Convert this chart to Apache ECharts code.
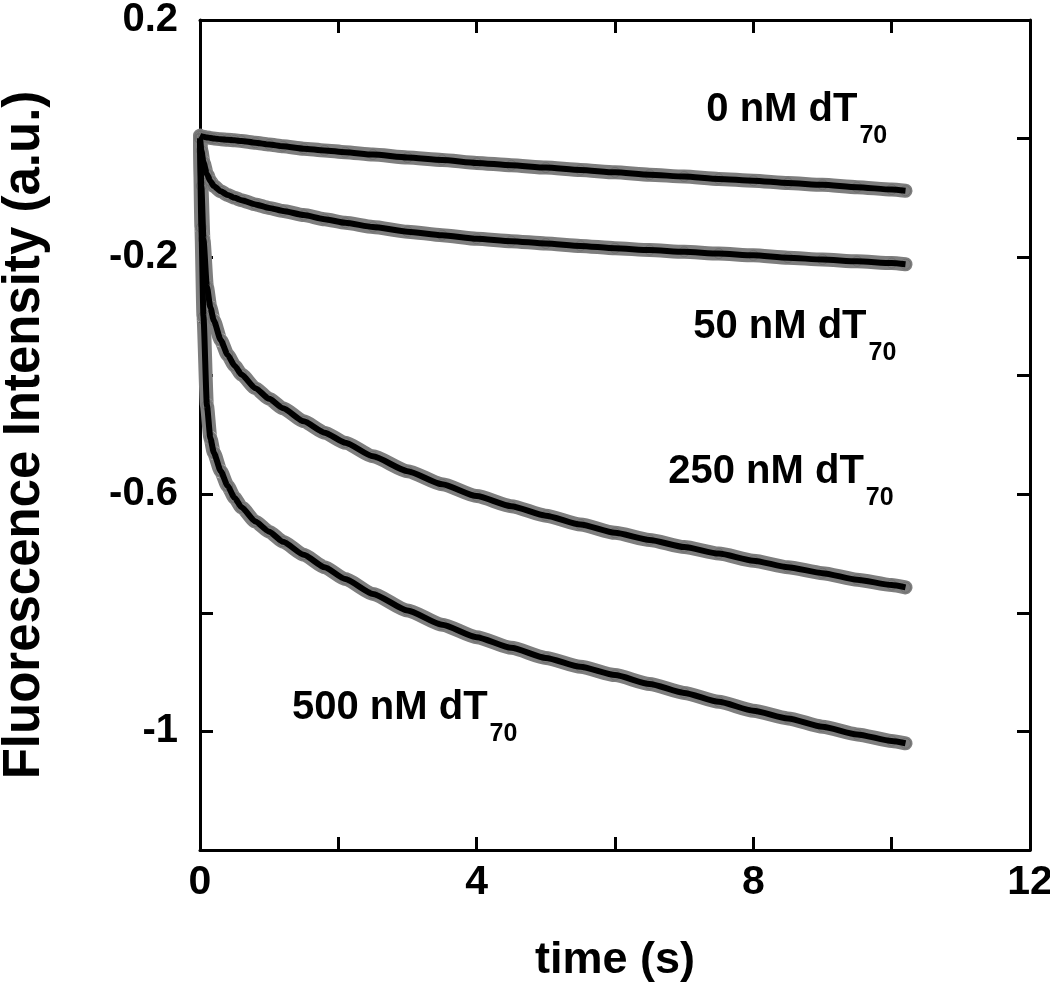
<!DOCTYPE html>
<html>
<head>
<meta charset="utf-8">
<script src="https://cdn.jsdelivr.net/npm/echarts@6/dist/echarts.min.js"></script>
<style>
html,body{margin:0;padding:0;background:#fff;}
#chart{width:1050px;height:995px;}
</style>
</head>
<body>
<div id="chart"></div>
<script>
// ---- data ----
const times = [0, 0.02, 0.05, 0.1, 0.15, 0.2, 0.3, 0.4, 0.5, 0.6, 0.8, 1.0, 1.2, 1.5, 1.8, 2.1, 2.5, 3.0, 3.5, 4.0, 4.5, 5.0, 5.5, 6.0, 6.5, 7.0, 7.5, 8.0, 8.5, 9.0, 9.5, 10.0, 10.2];
const conc0 = [0.005, 0.004, 0.003, 0.002, 0.001, 0.0, -0.001, -0.002, -0.003, -0.004, -0.007, -0.010, -0.013, -0.017, -0.020, -0.023, -0.027, -0.032, -0.036, -0.041, -0.045, -0.049, -0.053, -0.057, -0.061, -0.064, -0.068, -0.071, -0.075, -0.078, -0.082, -0.086, -0.088];
const conc50 = [0.0, -0.02, -0.04, -0.06, -0.072, -0.080, -0.089, -0.095, -0.100, -0.104, -0.111, -0.117, -0.122, -0.129, -0.136, -0.142, -0.149, -0.157, -0.163, -0.169, -0.173, -0.177, -0.181, -0.185, -0.188, -0.191, -0.194, -0.197, -0.201, -0.204, -0.207, -0.210, -0.212];
const conc250 = [0.0, -0.08, -0.17, -0.25, -0.285, -0.307, -0.340, -0.365, -0.383, -0.398, -0.421, -0.439, -0.455, -0.477, -0.496, -0.513, -0.536, -0.561, -0.583, -0.603, -0.620, -0.636, -0.651, -0.665, -0.677, -0.689, -0.700, -0.712, -0.723, -0.733, -0.744, -0.753, -0.757];
const conc500 = [0.0, -0.15, -0.30, -0.45, -0.505, -0.530, -0.561, -0.586, -0.606, -0.622, -0.646, -0.663, -0.680, -0.702, -0.723, -0.743, -0.768, -0.796, -0.820, -0.841, -0.859, -0.876, -0.891, -0.905, -0.920, -0.935, -0.950, -0.965, -0.978, -0.992, -1.005, -1.016, -1.020];
const seriesNames = ['0 nM', '50 nM', '250 nM', '500 nM'];
const xTickLabels = ['0', '4', '8', '12'];
const yTickLabels = ['0.2', '-0.2', '-0.6', '-1'];
const labelMain = ['0 nM dT', '50 nM dT', '250 nM dT', '500 nM dT'];
const labelSub = '70';
// ---------------------------------------

const allSeries = [conc0, conc50, conc250, conc500];
const zip = arr => times.map((t, i) => [t, arr[i]]);

const FONT = '"Liberation Sans", Arial, sans-serif';
const chart = echarts.init(document.getElementById('chart'), null, {renderer: 'canvas'});

function fmtMatch(list) {
  return function (v) {
    for (const s of list) { if (Math.abs(parseFloat(s) - v) < 1e-6) return s; }
    return '';
  };
}

const series = [];
allSeries.forEach((arr, k) => {
  series.push({
    name: seriesNames[k] + ' data', type: 'line', data: zip(arr),
    xAxisIndex: 0, yAxisIndex: 0,
    smooth: 0.2, smoothMonotone: 'x',
    showSymbol: true, symbol: 'circle', symbolSize: 10,
    itemStyle: {color: 'rgba(0,0,0,0)', borderColor: '#6e6e6e', borderWidth: 1},
    lineStyle: {color: '#7e7e7e', width: 14, cap: 'round', join: 'round'},
    z: 2, silent: true, animation: false
  });
});
allSeries.forEach((arr, k) => {
  series.push({
    name: seriesNames[k] + ' fit', type: 'line', data: zip(arr),
    xAxisIndex: 0, yAxisIndex: 0,
    smooth: 0.2, smoothMonotone: 'x',
    showSymbol: false,
    lineStyle: {color: '#000', width: 6, join: 'round'},
    z: 3, silent: true, animation: false
  });
});

const axisLineStyle = {onZero: false, lineStyle: {color: '#000', width: 3}};
const tickStyle = {show: true, inside: true, length: 13, lineStyle: {color: '#000', width: 3}};

chart.setOption({
  animation: false,
  backgroundColor: '#fff',
  grid: {left: 200, right: 20, top: 20, bottom: 145, containLabel: false, outerBoundsMode: 'none'},
  xAxis: [{
    type: 'value', min: 0, max: 12, interval: 2, position: 'bottom',
    axisLine: axisLineStyle, axisTick: tickStyle, splitLine: {show: false},
    axisLabel: {formatter: fmtMatch(xTickLabels), fontFamily: FONT, fontWeight: 'bold', fontSize: 41, color: '#000', margin: 12},
    name: 'time (s)', nameLocation: 'middle', nameGap: 88,
    nameTextStyle: {fontFamily: FONT, fontWeight: 'bold', fontSize: 45, color: '#000'}
  }, {
    type: 'value', min: 0, max: 12, interval: 2, position: 'top',
    axisLine: axisLineStyle, axisTick: tickStyle, splitLine: {show: false},
    axisLabel: {show: false}
  }],
  yAxis: [{
    type: 'value', min: -1.2, max: 0.2, interval: 0.2, position: 'left',
    axisLine: axisLineStyle, axisTick: tickStyle, splitLine: {show: false},
    axisLabel: {formatter: fmtMatch(yTickLabels), fontFamily: FONT, fontWeight: 'bold', fontSize: 40, color: '#000', margin: 22},
    name: 'Fluorescence Intensity (a.u.)', nameLocation: 'middle', nameGap: 150, nameRotate: 90,
    nameTextStyle: {fontFamily: FONT, fontWeight: 'bold', fontSize: 51, color: '#000'}
  }, {
    type: 'value', min: -1.2, max: 0.2, interval: 0.2, position: 'right',
    axisLine: axisLineStyle, axisTick: tickStyle, splitLine: {show: false},
    axisLabel: {show: false}
  }],
  series: series
});

// annotation labels with subscript, anchored in data coordinates
const anchors = [[7.32, 0.048], [7.13, -0.318], [6.77, -0.562], [1.33, -0.960]];
const ctx = document.createElement('canvas').getContext('2d');
ctx.font = 'bold 40px ' + FONT;
const graphics = [];
anchors.forEach((a, k) => {
  const p = chart.convertToPixel({xAxisIndex: 0, yAxisIndex: 0}, a);
  const w = ctx.measureText(labelMain[k]).width;
  graphics.push({
    type: 'text', x: p[0], y: p[1], z: 10,
    style: {text: labelMain[k], font: 'bold 40px ' + FONT, fill: '#000', textAlign: 'left', textVerticalAlign: 'middle'}
  });
  graphics.push({
    type: 'text', x: p[0] + w + 2, y: p[1] + 26, z: 10,
    style: {text: labelSub, font: 'bold 25px ' + FONT, fill: '#000', textAlign: 'left', textVerticalAlign: 'middle'}
  });
});
chart.setOption({graphic: graphics});
</script>
</body>
</html>
